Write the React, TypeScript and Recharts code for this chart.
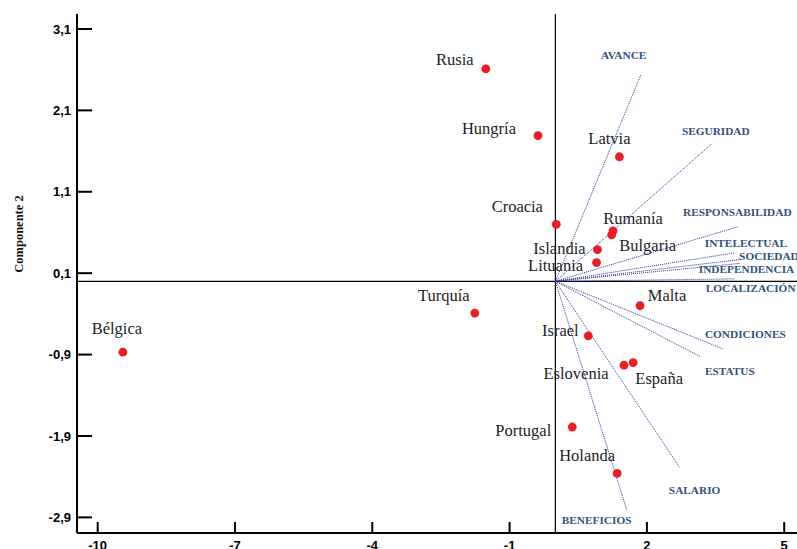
import { ReferenceLine, Scatter, ScatterChart, XAxis, YAxis } from "recharts";

// countries (component scores)
const countries = [
  "Rusia", "Hungría", "Croacia", "Islandia", "Lituania", "Latvia", "Rumanía", "Bulgaria",
  "Malta", "Israel", "Eslovenia", "España", "Portugal", "Holanda", "Bélgica", "Turquía",
];
const countryX = [-1.52, -0.38, 0.02, 0.92, 0.9, 1.4, 1.26, 1.23, 1.85, 0.72, 1.5, 1.7, 0.37, 1.35, -9.45, -1.76];
const countryY = [2.61, 1.79, 0.7, 0.39, 0.23, 1.53, 0.62, 0.57, -0.3, -0.67, -1.03, -1.0, -1.79, -2.36, -0.87, -0.39];

// variables (loadings)
const variables = [
  "AVANCE", "SEGURIDAD", "RESPONSABILIDAD", "INTELECTUAL", "SOCIEDAD", "INDEPENDENCIA",
  "LOCALIZACIÓN", "CONDICIONES", "ESTATUS", "SALARIO", "BENEFICIOS",
];
const variableX = [1.87, 3.42, 3.99, 3.92, 4.08, 4.03, 3.92, 3.66, 3.18, 2.72, 1.56];
const variableY = [2.54, 1.69, 0.67, 0.35, 0.27, 0.22, 0.03, -0.83, -0.93, -2.29, -2.81];

const xTicks = [-10, -7, -4, -1, 2, 5];
const yTicks = [-2.9, -1.9, -0.9, 0.1, 1.1, 2.1, 3.1];

// label placement in px, relative to the mark
const countryLabelOffset: Record<string, [number, number]> = {
  Rusia: [-31, -10], Hungría: [-49, -7], Croacia: [-39, -18], Islandia: [-38, -1],
  Lituania: [-41, 3], Latvia: [-10, -19], Rumanía: [20, -13], Bulgaria: [36, 10],
  Malta: [27, -11], Israel: [-28, -6], Eslovenia: [-48, 8], España: [26, 16],
  Portugal: [-49, 3], Holanda: [-30, -18], Bélgica: [-6, -24], Turquía: [-31, -18],
};
const variableLabelOffset: Record<string, [number, number]> = {
  AVANCE: [-40, -20], SEGURIDAD: [-30, -13], RESPONSABILIDAD: [-55, -15],
  INTELECTUAL: [-30, -10], SOCIEDAD: [-3, -3], INDEPENDENCIA: [-41, 6],
  "LOCALIZACIÓN": [-29, 9], CONDICIONES: [-18, -15], ESTATUS: [4, 14],
  SALARIO: [-11, 22], BENEFICIOS: [-65, 10],
};

const countryData = countries.map((name, i) => ({ name, x: countryX[i], y: countryY[i] }));

const fmt = (v: number) => String(v).replace(".", ",");
const serif = "'Liberation Serif', 'Times New Roman', serif";
const sans = "'Liberation Sans', Arial, sans-serif";

const CountryDot = (p: any) => {
  const [dx, dy] = countryLabelOffset[p.payload.name] || [0, -15];
  return (
    <g>
      <circle cx={p.cx} cy={p.cy} r={4.4} fill="#ec1c24" />
      <text x={p.cx + dx} y={p.cy + dy} dy="0.35em" textAnchor="middle" fontFamily={serif} fontSize={16.5} fill="#1e1e1e">
        {p.payload.name}
      </text>
    </g>
  );
};

const VectorEnd = (p: any) => {
  if (!p.payload.name) return <g />;
  const [dx, dy] = variableLabelOffset[p.payload.name] || [0, 0];
  return (
    <text x={p.cx + dx} y={p.cy + dy} dy="0.35em" fontFamily={serif} fontWeight="bold" fontSize={11.3} fill="#33537a">
      {p.payload.name}
    </text>
  );
};

const BottomTick = (p: any) => (
  <g>
    <line x1={p.x} x2={p.x} y1={p.y} y2={p.y - 11} stroke="#000" strokeWidth={2} />
    <text x={p.x} y={p.y + 16.5} textAnchor="middle" fontFamily={sans} fontWeight="bold" fontSize={13} fill="#000">
      {p.payload.value}
    </text>
  </g>
);
const TopTick = (p: any) => <line x1={p.x} x2={p.x} y1={p.y} y2={p.y + 10} stroke="#000" strokeWidth={2} />;
const LeftTick = (p: any) => (
  <g>
    <line x1={p.x} x2={p.x + 15} y1={p.y} y2={p.y} stroke="#000" strokeWidth={2} />
    <text x={p.x - 6} y={p.y} dy="0.36em" textAnchor="end" fontFamily={sans} fontWeight="bold" fontSize={13} fill="#000">
      {fmt(p.payload.value)}
    </text>
  </g>
);
const RightTick = (p: any) => <line x1={p.x} x2={p.x - 14} y1={p.y} y2={p.y} stroke="#000" strokeWidth={2} />;

export default function App() {
  const xDomain = [-10.452, 5.476];
  const yDomain = [-3.092, 3.284];
  return (
    <div style={{ position: "absolute", left: 0, top: 0, width: 797, height: 549, overflow: "hidden", background: "#fff" }}>
      <ScatterChart width={830} height={549} margin={{ top: 14, right: 24, bottom: 0, left: 0 }}>
        <XAxis
          xAxisId="b" type="number" dataKey="x" domain={xDomain} ticks={xTicks} allowDataOverflow
          height={16} tickSize={0} tickMargin={0} tickLine={false} tick={BottomTick}
          axisLine={{ stroke: "#000", strokeWidth: 2 }} interval={0}
        />
        <XAxis
          xAxisId="t" orientation="top" type="number" dataKey="x" domain={xDomain} ticks={xTicks} allowDataOverflow
          height={0} tickSize={0} tickMargin={0} tickLine={false} tick={TopTick}
          axisLine={{ stroke: "#000", strokeWidth: 2 }} interval={0}
        />
        <YAxis
          yAxisId="l" type="number" dataKey="y" domain={yDomain} ticks={yTicks} allowDataOverflow
          width={77} tickSize={0} tickMargin={0} tickLine={false} tick={LeftTick}
          axisLine={{ stroke: "#000", strokeWidth: 2 }} interval={0}
          label={{
            content: () => (
              <text x={19} y={234} transform="rotate(-90 19 234)" textAnchor="middle" dy="0.35em"
                fontFamily={serif} fontWeight="bold" fontSize={12.5} fill="#111">
                Componente 2
              </text>
            ),
          }}
        />
        <YAxis
          yAxisId="r" orientation="right" type="number" dataKey="y" domain={yDomain} ticks={yTicks} allowDataOverflow
          width={0} tickSize={0} tickMargin={0} tickLine={false} tick={RightTick}
          axisLine={{ stroke: "#000", strokeWidth: 2 }} interval={0}
        />
        <ReferenceLine xAxisId="b" yAxisId="l" x={0} stroke="#000" strokeWidth={1.2} />
        <ReferenceLine xAxisId="b" yAxisId="l" y={0} stroke="#000" strokeWidth={1.2} />
        {variables.map((name, i) => (
          <Scatter
            key={name}
            xAxisId="b"
            yAxisId="l"
            data={[{ x: 0, y: 0, name: "" }, { x: variableX[i], y: variableY[i], name }]}
            line={{ stroke: "#2e31a0", strokeWidth: 1, strokeDasharray: "1 1" }}
            shape={VectorEnd}
            isAnimationActive={false}
          />
        ))}
        <Scatter xAxisId="b" yAxisId="l" data={countryData} shape={CountryDot} isAnimationActive={false} />
      </ScatterChart>
    </div>
  );
}
